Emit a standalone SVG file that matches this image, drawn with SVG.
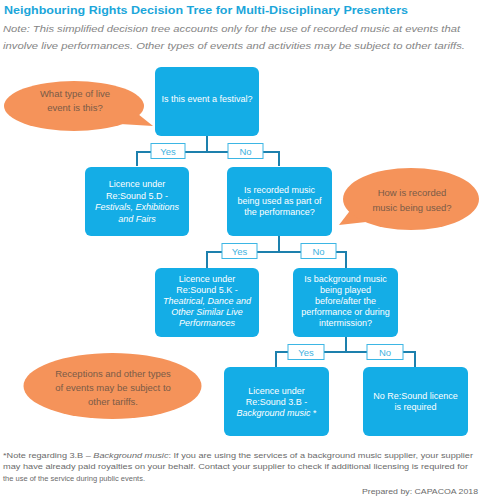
<svg xmlns="http://www.w3.org/2000/svg" width="483" height="500" viewBox="0 0 483 500">
<style>
.box{fill:#14ade6;}
.bt{font-family:"Liberation Sans",Arial,sans-serif;font-size:9px;fill:#ffffff;text-anchor:middle;}
.it{font-style:italic;}
.bub{fill:#f5935a;}
.bubt{font-family:"Liberation Sans",Arial,sans-serif;font-size:9.5px;fill:#7a5b47;text-anchor:middle;}
.con{fill:none;stroke:#1d80ad;stroke-width:2;}
.lbl{fill:#ffffff;stroke:#3db6e4;stroke-width:1;}
.lt{font-family:"Liberation Sans",Arial,sans-serif;font-size:9.5px;fill:#3fb2e0;text-anchor:middle;}
.title{font-family:"Liberation Sans",Arial,sans-serif;font-size:11.5px;font-weight:bold;fill:#1ba6da;}
.note{font-family:"Liberation Sans",Arial,sans-serif;font-size:9.5px;font-style:italic;fill:#858585;}
.foot{font-family:"Liberation Sans",Arial,sans-serif;font-size:7.6px;fill:#6a6a6a;}
</style>
<rect width="483" height="500" fill="#ffffff"/>
<text class="title" x="4" y="13.5" textLength="404" lengthAdjust="spacingAndGlyphs">Neighbouring Rights Decision Tree for Multi-Disciplinary Presenters</text>
<text class="note" x="3" y="32" textLength="457" lengthAdjust="spacingAndGlyphs">Note: This simplified decision tree accounts only for the use of recorded music at events that</text>
<text class="note" x="3" y="48.5" textLength="462" lengthAdjust="spacingAndGlyphs">involve live performances. Other types of events and activities may be subject to other tariffs.</text>

<g id="bubble1">
<path class="bub" d="M120,124 L153,126 L138,114 Z"/>
<ellipse class="bub" cx="74" cy="106" rx="70" ry="25"/>
<text class="bubt" x="75" y="96.5">What type of live</text>
<text class="bubt" x="75" y="110.5">event is this?</text>
</g>
<g id="bubble2">
<path class="bub" d="M352,208 L339,225 L366,222 Z"/>
<ellipse class="bub" cx="411" cy="199" rx="68" ry="31"/>
<text class="bubt" x="412" y="195.5">How is recorded</text>
<text class="bubt" x="412" y="210.5">music being used?</text>
</g>
<g id="bubble3">
<ellipse class="bub" cx="112.5" cy="386" rx="89" ry="33"/>
<text class="bubt" x="113" y="376.5">Receptions and other types</text>
<text class="bubt" x="113" y="390.5">of events may be subject to</text>
<text class="bubt" x="113" y="404.5">other tariffs.</text>
</g>

<g id="connectors">
<path class="con" d="M207,136 V152 M137,166 V152 H279 V166"/>
<path class="con" d="M279,236 V252 M207,268 V252 H346 V268"/>
<path class="con" d="M346,337 V352 M276,367 V352 H415 V367"/>
<rect class="lbl" x="151" y="143.5" width="34" height="15"/>
<text class="lt" x="168" y="154.5">Yes</text>
<rect class="lbl" x="228" y="143.5" width="35" height="15"/>
<text class="lt" x="245.5" y="154.5">No</text>
<rect class="lbl" x="222" y="243.5" width="35" height="15"/>
<text class="lt" x="239.5" y="254.5">Yes</text>
<rect class="lbl" x="301" y="243.5" width="35" height="15"/>
<text class="lt" x="318.5" y="254.5">No</text>
<rect class="lbl" x="288" y="344.5" width="36" height="15"/>
<text class="lt" x="306" y="355.5">Yes</text>
<rect class="lbl" x="367" y="344.5" width="36" height="15"/>
<text class="lt" x="385" y="355.5">No</text>
</g>

<g id="q1">
<rect class="box" x="155" y="67" width="104" height="69" rx="6"/>
<text class="bt" x="207" y="102">Is this event a festival?</text>
</g>
<g id="lic5d">
<rect class="box" x="85" y="167" width="104" height="69" rx="6"/>
<text class="bt" x="137" y="187">Licence under</text>
<text class="bt" x="137" y="198.5">Re:Sound 5.D -</text>
<text class="bt it" x="137" y="210">Festivals,  Exhibitions</text>
<text class="bt it" x="137" y="221.5">and Fairs</text>
</g>
<g id="q2">
<rect class="box" x="227" y="167" width="105" height="69" rx="6"/>
<text class="bt" x="279.5" y="193">Is recorded music</text>
<text class="bt" x="279.5" y="204">being used as part of</text>
<text class="bt" x="279.5" y="215">the performance?</text>
</g>
<g id="lic5k">
<rect class="box" x="155" y="268" width="104" height="69" rx="6"/>
<text class="bt" x="207" y="282">Licence under</text>
<text class="bt" x="207" y="293">Re:Sound 5.K -</text>
<text class="bt it" x="207" y="304">Theatrical, Dance and</text>
<text class="bt it" x="207" y="315">Other Similar Live</text>
<text class="bt it" x="207" y="326">Performances</text>
</g>
<g id="q3">
<rect class="box" x="293" y="268" width="105" height="69" rx="6"/>
<text class="bt" x="345.5" y="282">Is background music</text>
<text class="bt" x="345.5" y="293">being played</text>
<text class="bt" x="345.5" y="304">before/after the</text>
<text class="bt" x="345.5" y="315">performance or during</text>
<text class="bt" x="345.5" y="326">intermission?</text>
</g>
<g id="lic3b">
<rect class="box" x="224" y="367" width="105" height="69" rx="6"/>
<text class="bt" x="276.5" y="394">Licence under</text>
<text class="bt" x="276.5" y="405">Re:Sound 3.B -</text>
<text class="bt" x="276.5" y="416"><tspan class="it">Background music</tspan>  *</text>
</g>
<g id="nolicence">
<rect class="box" x="363" y="367" width="105" height="69" rx="6"/>
<text class="bt" x="415.5" y="399">No Re:Sound  licence</text>
<text class="bt" x="415.5" y="410">is required</text>
</g>

<text class="foot" x="3" y="457.5" textLength="470" lengthAdjust="spacingAndGlyphs">*Note regarding 3.B – <tspan font-style="italic">Background  music</tspan>: If you are using the services of a background music supplier, your supplier</text>
<text class="foot" x="3" y="469" textLength="465" lengthAdjust="spacingAndGlyphs">may have already paid royalties on your behalf. Contact your supplier to check if additional licensing is required for</text>
<text class="foot" x="3" y="480.5" textLength="142" lengthAdjust="spacingAndGlyphs">the use of the service during public events.</text>
<text class="foot" x="362" y="494" textLength="116" lengthAdjust="spacingAndGlyphs">Prepared by: CAPACOA 2018</text>
</svg>
